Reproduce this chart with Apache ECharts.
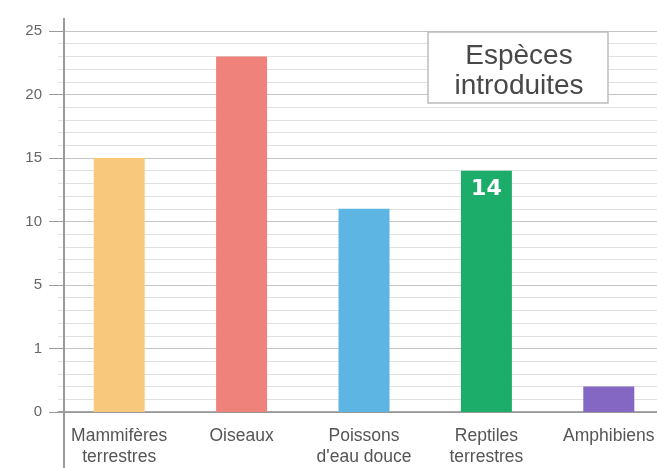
<!DOCTYPE html>
<html>
<head>
<meta charset="utf-8">
<script src="https://cdn.jsdelivr.net/npm/echarts@6/dist/echarts.min.js"></script>
<style>html,body{margin:0;padding:0;background:#fff;overflow:hidden}#c{width:670px;height:468px}</style>
</head>
<body>
<div id="c"></div>
<script>
const categories = ['Mammifères\nterrestres', 'Oiseaux', 'Poissons\nd\'eau douce', 'Reptiles\nterrestres', 'Amphibiens'];
const values = [15, 23, 11, 14, 0.4];
const tickValues = [0, 1, 5, 10, 15, 20, 25];
const barColors = ['#F8C97C', '#EF837C', '#5DB5E3', '#1DAD6A', '#8467C2'];
const labelledIndex = 3;
const titleLines = ['Espèces', 'introduites'];

function toPos(v) {
  for (let i = 0; i < tickValues.length - 1; i++) {
    if (v <= tickValues[i + 1]) return i + (v - tickValues[i]) / (tickValues[i + 1] - tickValues[i]);
  }
  return tickValues.length - 1;
}

const chart = echarts.init(document.getElementById('c'), null, {renderer: 'canvas'});
chart.setOption({
  backgroundColor: '#fff',
  animation: false,
  grid: {left: 58, right: 0, top: 31, bottom: 52},
  xAxis: {
    type: 'category',
    data: categories,
    axisLine: {show: true, lineStyle: {color: '#8a8a8a', width: 1.5}},
    axisTick: {show: false},
    axisLabel: {interval: 0, color: '#555', fontSize: 17.5, lineHeight: 21, margin: 14, fontFamily: 'Liberation Sans'}
  },
  yAxis: {
    type: 'value',
    min: 0, max: tickValues.length - 1, interval: 1,
    offset: -6,
    axisLine: {show: true, lineStyle: {color: '#9a9a9a', width: 2}},
    axisTick: {show: true, length: 15, lineStyle: {color: '#9a9a9a'}},
    axisLabel: {formatter: v => String(tickValues[v]), color: '#666', fontSize: 15, margin: 22, fontFamily: 'Liberation Sans'},
    splitLine: {show: true, lineStyle: {color: '#c4c4c4', width: 1}},
    minorTick: {show: false, splitNumber: 5},
    minorSplitLine: {show: true, lineStyle: {color: '#e0e0e0', width: 1}}
  },
  series: [{
    type: 'bar',
    barWidth: 51,
    data: values.map((v, i) => ({
      value: toPos(v),
      itemStyle: {color: barColors[i]},
      label: i === labelledIndex ? {
        show: true, position: 'insideTop', distance: 8,
        formatter: String(v), color: '#fff', fontWeight: 'bold', fontSize: 22, fontFamily: 'DejaVu Sans'
      } : {show: false}
    }))
  }],
  graphic: [
    {type: 'line', shape: {x1: 64, y1: 18, x2: 64, y2: 468}, style: {stroke: '#9a9a9a', lineWidth: 2}, z: 10},
    {type: 'rect', shape: {x: 428, y: 32, width: 180, height: 71}, style: {fill: '#fff', stroke: '#bdbdbd', lineWidth: 1.5}, z: 20},
    {type: 'text', x: 519, y: 56, style: {text: titleLines[0], fill: '#484848', font: '28px "Liberation Sans"', textAlign: 'center', textVerticalAlign: 'middle'}, z: 21},
    {type: 'text', x: 519, y: 86, style: {text: titleLines[1], fill: '#484848', font: '28px "Liberation Sans"', textAlign: 'center', textVerticalAlign: 'middle'}, z: 21}
  ]
});
</script>
</body>
</html>
